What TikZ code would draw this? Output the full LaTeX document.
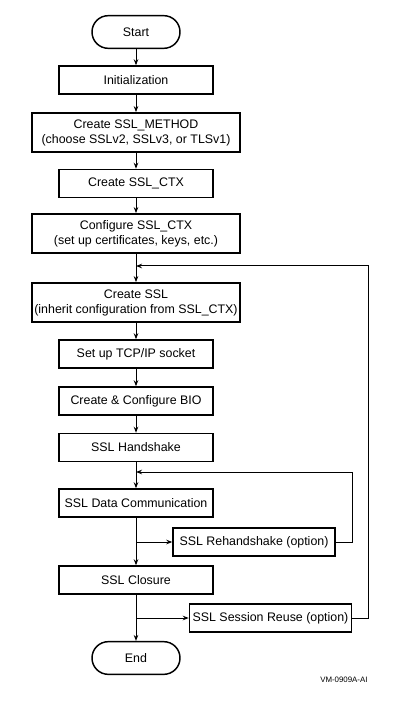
\documentclass[tikz,border=0pt]{standalone}
\usepackage{fontspec}
\setmainfont{Liberation Sans}
\usetikzlibrary{arrows.meta}

\tikzset{every picture/.style={line width=0.75pt}}
\tikzset{
  box/.style={draw, line width=1.1pt, minimum width=115.5pt, minimum height=21pt, inner sep=1pt, align=center, font=\fontsize{9.3}{11.25}\selectfont},
  widebox/.style={box, minimum width=156pt, minimum height=29.5pt},
  optbox/.style={box, minimum width=121.5pt},
  term/.style={box, minimum width=66pt, minimum height=24.5pt, rounded corners=12.2pt},
  arr/.style={-{Stealth[length=4.5pt,width=3.4pt]}}
}

\begin{document}
\begin{tikzpicture}[x=0.75pt,y=0.75pt,yscale=-1,xscale=1]
		\useasboundingbox (0,0) rectangle (411,705);

		%Shape: Terminals and steps
		\node [term] (start) at (136,32) {Start};
		\node [box] (init) at (136,80) {Initialization};
		\node [widebox] (method) at (136,132.5) {Create SSL\_METHOD\\(choose SSLv2, SSLv3, or TLSv1)};
		\node [box] (ctx) at (136,183.5) {Create SSL\_CTX};
		\node [widebox] (conf) at (136,233.5) {Configure SSL\_CTX\\(set up certificates, keys, etc.)};
		\node [widebox] (ssl) at (136,302.5) {Create SSL\\(inherit configuration from SSL\_CTX)};
		\node [box] (tcp) at (136,354) {Set up TCP/IP socket};
		\node [box] (bio) at (136,401) {Create \& Configure BIO};
		\node [box] (hs) at (136,447.5) {SSL Handshake};
		\node [box] (data) at (136,503) {SSL Data Communication};
		\node [optbox] (rehs) at (254,542) {SSL Rehandshake (option)};
		\node [box] (close) at (136,580) {SSL Closure};
		\node [optbox] (reuse) at (270.5,618) {SSL Session Reuse (option)};
		\node [term] (end) at (136,658) {End};

		%Junctions on the main line
		\coordinate (j1) at (136,266);
		\coordinate (j2) at (136,472);
		\coordinate (b1) at (136,542);
		\coordinate (b2) at (136,618);

		%Straight Lines
		\draw [arr] (start) -- (init);
		\draw [arr] (init) -- (method);
		\draw [arr] (method) -- (ctx);
		\draw [arr] (ctx) -- (conf);
		\draw [arr] (conf) -- (ssl);
		\draw [arr] (ssl) -- (tcp);
		\draw [arr] (tcp) -- (bio);
		\draw [arr] (bio) -- (hs);
		\draw [arr] (hs) -- (data);
		\draw [arr] (data) -- (close);
		\draw [arr] (close) -- (end);
		\draw [arr] (b1) -- (rehs);
		\draw [arr] (b2) -- (reuse);

		%Loops back
		\draw [arr] (rehs.east) -- (352,542) |- (j2);
		\draw [arr] (reuse.east) -- (368,618) |- (j1);

		% Text Node
		\node [anchor=east, inner sep=0pt, font=\fontsize{5.9}{6.5}\selectfont] (tag) at (368,680) {VM-0909A-AI};

\end{tikzpicture}
\end{document}
